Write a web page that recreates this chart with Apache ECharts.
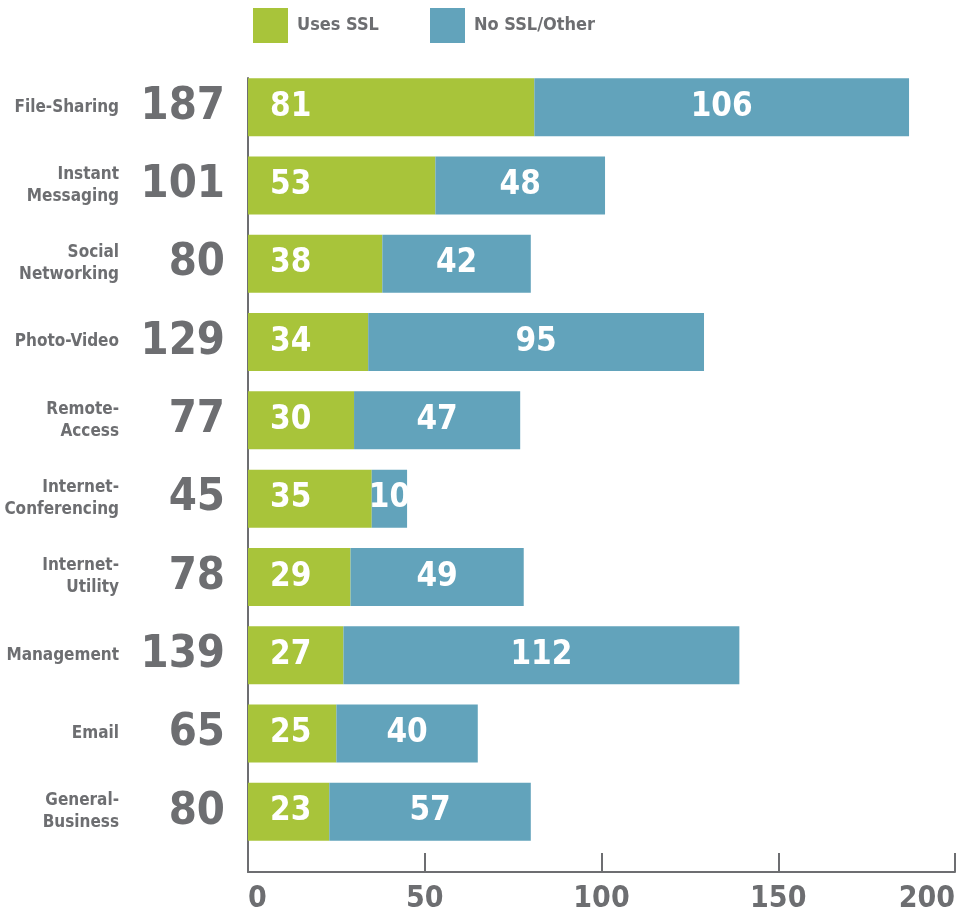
<!DOCTYPE html>
<html>
<head>
	<meta charset="utf-8">
	<title>SSL usage by category</title>
	<script src="https://cdn.jsdelivr.net/npm/echarts@6/dist/echarts.min.js"></script>
	<style type="text/css">
		html, body { margin: 0; padding: 0; background: #ffffff; }
		#chartContainer { width: 967px; height: 918px; }
	</style>
</head>
<body>
	<div id="chartContainer"></div>
	<script type="text/javascript">
		var categoryList = ['File-Sharing', 'Instant\nMessaging', 'Social\nNetworking', 'Photo-Video', 'Remote-\nAccess',
			'Internet-\nConferencing', 'Internet-\nUtility', 'Management', 'Email', 'General-\nBusiness'];
		var totalList = [187, 101, 80, 129, 77, 45, 78, 139, 65, 80];
		var sslList = [81, 53, 38, 34, 30, 35, 29, 27, 25, 23];
		var otherList = [106, 48, 42, 95, 47, 10, 49, 112, 40, 57];
		var xTicks = [0, 50, 100, 150, 200];

		var font = '"DejaVu Sans Condensed", Roboto, sans-serif';
		var gray = '#6d6e71';
		var green = '#a8c43a';
		var blue = '#62a3bb';

		var myChart = echarts.init(document.getElementById('chartContainer'));
		var option = {
			animation: false,
			textStyle: { fontFamily: font },
			legend: [
				{ left: 248, top: 3, icon: 'rect', itemWidth: 35, itemHeight: 35, data: ['Uses SSL'],
					textStyle: { color: gray, fontSize: 18, fontWeight: 'bold', fontFamily: font, padding: [0, 0, 0, 4] } },
				{ left: 425, top: 3, icon: 'rect', itemWidth: 35, itemHeight: 35, data: ['No SSL/Other'],
					textStyle: { color: gray, fontSize: 18, fontWeight: 'bold', fontFamily: font, padding: [0, 0, 0, 4] } }
			],
			grid: [
				{ left: 248, right: 12, top: 68, height: 783, outerBoundsMode: 'none', containLabel: false },
				{ left: 248, right: 12, top: 78, bottom: 46, outerBoundsMode: 'none', containLabel: false }
			],
			xAxis: [
				{ gridIndex: 0, type: 'value', min: 0, max: 200, show: false },
				{
					gridIndex: 1, type: 'value', min: xTicks[0], max: xTicks[xTicks.length - 1], interval: 50,
					axisLine: { show: true, lineStyle: { color: gray, width: 2 } },
					axisTick: { show: true, inside: true, length: 19, lineStyle: { color: gray, width: 2 } },
					splitLine: { show: false },
					axisLabel: { color: gray, fontSize: 30, fontWeight: 'bold', fontFamily: font, margin: 12,
						alignMinLabel: 'left', alignMaxLabel: 'right' }
				}
			],
			yAxis: [
				{
					gridIndex: 0, type: 'category', inverse: true, data: categoryList,
					axisLine: { show: false }, axisTick: { show: false },
					axisLabel: { color: gray, fontSize: 17, fontWeight: 'bold', fontFamily: font, margin: 129, lineHeight: 22, align: 'right' }
				},
				{
					gridIndex: 0, type: 'category', inverse: true, position: 'left', data: totalList,
					axisLine: { show: false }, axisTick: { show: false },
					axisLabel: { color: gray, fontSize: 45, fontWeight: 'bold', fontFamily: font, margin: 23, align: 'right' }
				},
				{
					gridIndex: 1, type: 'value', min: 0, max: 1,
					axisLine: { show: true, lineStyle: { color: gray, width: 2 } },
					axisTick: { show: false }, axisLabel: { show: false }, splitLine: { show: false }
				}
			],
			series: [
				{
					name: 'Uses SSL', type: 'bar', stack: 'total', xAxisIndex: 0, yAxisIndex: 0,
					barWidth: 58, data: sslList, itemStyle: { color: green },
					label: { show: true, position: 'insideLeft', distance: 22, color: '#ffffff', fontSize: 33, fontWeight: 'bold', fontFamily: font }
				},
				{
					name: 'No SSL/Other', type: 'bar', stack: 'total', xAxisIndex: 0, yAxisIndex: 0,
					barWidth: 58, data: otherList, itemStyle: { color: blue },
					label: { show: true, position: 'inside', color: '#ffffff', fontSize: 33, fontWeight: 'bold', fontFamily: font }
				}
			]
		};
		myChart.setOption(option);
	</script>
</body>
</html>
